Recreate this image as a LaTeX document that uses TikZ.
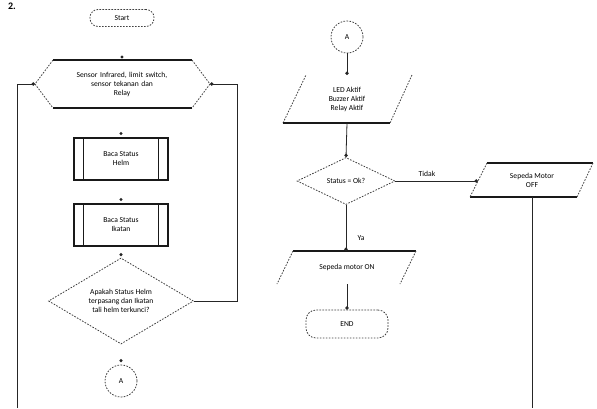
\documentclass[tikz,border=0pt]{standalone}
\usepackage{fontspec}
\setmainfont{Carlito}
\usetikzlibrary{arrows.meta,shapes.geometric}
\begin{document}
\begin{tikzpicture}[x=1pt,y=-1pt]
\tikzset{
 conn/.style={draw=black!85, line width=0.8pt, -{Circle[length=3.4pt]}},
 plain/.style={draw=black!85, line width=0.8pt},
 dsh/.style={draw=black!75, line width=0.8pt, dash pattern=on 1.6pt off 1.4pt},
 sol/.style={draw=black!90, line width=1.1pt},
 txt/.style={font=\fontsize{7.6}{9}\selectfont, align=center, text=black},
 lbl/.style={font=\fontsize{7.6}{9}\selectfont, text=black},
 dotm/.style={fill=black!85},
}
\useasboundingbox (0,0) rectangle (597,408);
\fill[white] (0,0) rectangle (597,408);

\node[font=\bfseries\fontsize{10}{11}\selectfont, inner sep=0pt] (num) at (12,6) {2.};

% ---------- left column ----------
\node[txt, dsh, rounded corners=8pt, minimum width=64pt, minimum height=17pt] (start) at (122,18) {Start};

\node[txt, text width=140pt] (prep) at (122,84) {Sensor Infrared, limit switch,\\ sensor tekanan dan\\ Relay};
\coordinate (prepTL) at (53,60);
\coordinate (prepTR) at (192,60);
\coordinate (prepR) at (210,84);
\coordinate (prepBR) at (192,108);
\coordinate (prepBL) at (53,108);
\coordinate (prepL) at (35,84);
\coordinate (prepT) at (122,60);
\draw[sol] (prepTL) -- (prepTR);
\draw[sol] (prepBL) -- (prepBR);
\draw[dsh] (prepTL) -- (prepL) -- (prepBL);
\draw[dsh] (prepTR) -- (prepR) -- (prepBR);

\node[txt, sol, minimum width=94pt, minimum height=42pt] (b1) at (121,159) {Baca Status\\ Helm};
\draw[sol] ([xshift=10pt]b1.north west) -- ([xshift=10pt]b1.south west);
\draw[sol] ([xshift=-10pt]b1.north east) -- ([xshift=-10pt]b1.south east);

\node[txt, sol, minimum width=94pt, minimum height=42pt] (b2) at (121,225) {Baca Status\\ Ikatan};
\draw[sol] ([xshift=10pt]b2.north west) -- ([xshift=10pt]b2.south west);
\draw[sol] ([xshift=-10pt]b2.north east) -- ([xshift=-10pt]b2.south east);

\node[txt, dsh, diamond, aspect=1.69, minimum width=145pt, minimum height=86pt, inner sep=0pt] (d1) at (121,301) {Apakah Status Helm\\ terpasang dan Ikatan\\ tali helm terkunci?};

\node[txt, dsh, circle, minimum size=32pt, inner sep=0pt] (a1) at (121,381) {A};

% arrow-head dots whose lines are not visible
\fill[dotm] ([yshift=3pt]prepT) circle (1.7pt);
\fill[dotm] ([yshift=4pt]b1.north) circle (1.7pt);
\fill[dotm] ([yshift=4pt]b2.north) circle (1.7pt);
\fill[dotm] ([yshift=3pt]d1.north) circle (1.7pt);
\fill[dotm] ([yshift=4pt]a1.north) circle (1.7pt);

% loops
\coordinate (loopL) at (17,408);
\draw[conn] (loopL) |- (prepL);
\coordinate (loopR) at (237,84);
\draw[conn] (d1.east) -| (loopR) -- (prepR);

% ---------- right column ----------
\node[txt, dsh, circle, minimum size=32pt, inner sep=0pt] (a2) at (347,37) {A};

\node[txt] (p1) at (347,99) {LED Aktif\\ Buzzer Aktif\\ Relay Aktif};
\coordinate (p1TL) at (306,75);
\coordinate (p1TR) at (412,75);
\coordinate (p1BR) at (390,123);
\coordinate (p1BL) at (283,123);
\coordinate (p1T) at (347,75);
\coordinate (p1B) at (347,123);
\draw[dsh] (p1BL) -- (p1TL);
\draw[dsh] (p1TR) -- (p1BR);
\draw[sol] (p1BL) -- (p1BR);

\node[txt, dsh, diamond, aspect=2.08, minimum width=98pt, minimum height=47pt, inner sep=0pt] (d2) at (346,181) {Status = Ok?};

\node[txt] (p2) at (532,180) {Sepeda Motor\\ OFF};
\coordinate (p2TL) at (487,163);
\coordinate (p2TR) at (593,163);
\coordinate (p2BR) at (577,197);
\coordinate (p2BL) at (470,197);
\coordinate (p2L) at (478,181);
\coordinate (p2B) at (532,197);
\draw[sol] (p2TL) -- (p2TR);
\draw[sol] (p2BL) -- (p2BR);
\draw[dsh] (p2TL) -- (p2BL);
\draw[dsh] (p2TR) -- (p2BR);

\node[txt] (p3) at (347,267) {Sepeda motor ON};
\coordinate (p3TL) at (293,251);
\coordinate (p3TR) at (416,251);
\coordinate (p3BR) at (400,284);
\coordinate (p3BL) at (277,284);
\coordinate (p3T) at (346,251);
\coordinate (p3B) at (347,284);
\draw[sol] (p3TL) -- (p3TR);
\draw[dsh] (p3TL) -- (p3BL);
\draw[dsh] (p3TR) -- (p3BR);

\node[txt, dsh, rounded corners=10pt, minimum width=82pt, minimum height=28pt] (endn) at (347,324) {END};

\draw[conn] (a2) -- (p1T);
\draw[conn] (p1B) -- (d2.north);
\draw[conn] (d2.east) -- (p2L);
\draw[conn] (d2.south) -- (p3T);
\draw[conn] (p3B) -- (endn.north);
\coordinate (p2end) at (532,408);
\draw[plain] (p2B) -- (p2end);

\node[lbl] (tidak) at (427,174) {Tidak};
\node[lbl] (ya) at (361,238) {Ya};
\end{tikzpicture}
\end{document}
